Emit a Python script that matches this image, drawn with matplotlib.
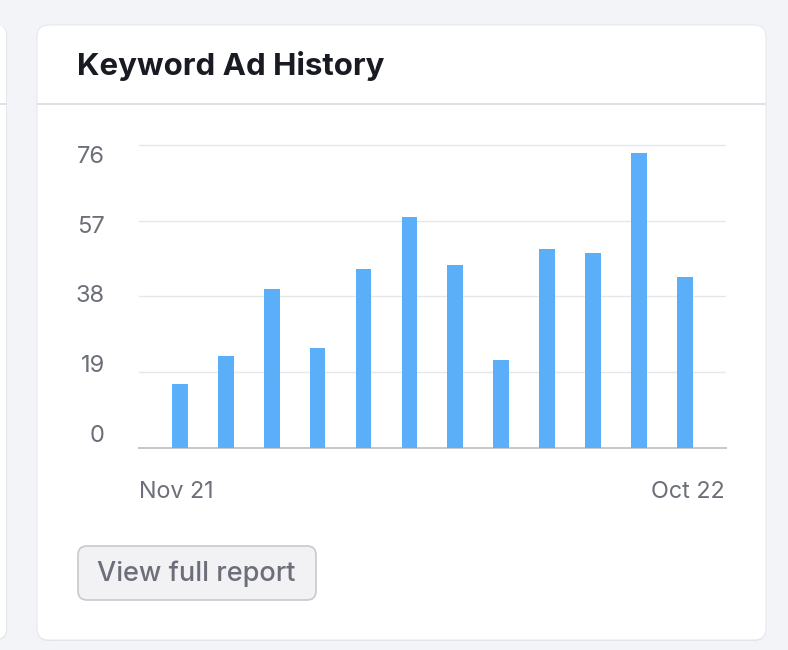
import matplotlib
matplotlib.use("Agg")
import matplotlib.pyplot as plt
from matplotlib.patches import FancyBboxPatch
import numpy as np

# ---- data ----
months = ["Nov 21", "Dec 21", "Jan 22", "Feb 22", "Mar 22", "Apr 22",
          "May 22", "Jun 22", "Jul 22", "Aug 22", "Sep 22", "Oct 22"]
ad_counts = [16, 23, 40, 25, 45, 58, 46, 22, 50, 49, 74, 43]
y_ticks = [0, 19, 38, 57, 76]
title = "Keyword Ad History"
button_label = "View full report"

# ---- style ----
W, H = 788, 650
BG = "#f3f4f8"
CARD = "#ffffff"
BAR = "#5aaff8"
GRID = "#e6e7ea"
AXIS = "#c5c7cd"
TXT = "#191b23"
GRAY = "#6c6e79"
FONT = "Inter"

plt.rcParams["font.family"] = [FONT, "DejaVu Sans"]

fig = plt.figure(figsize=(W / 100, H / 100), dpi=100, facecolor=BG)

# background canvas in pixel coordinates
bg = fig.add_axes([0, 0, 1, 1], zorder=0)
bg.set_xlim(0, W)
bg.set_ylim(H, 0)
bg.axis("off")

def rbox(x0, y0, x1, y1, r, **kw):
    p = FancyBboxPatch((x0 + r, y0 + r), (x1 - x0) - 2 * r, (y1 - y0) - 2 * r,
                       boxstyle=f"round,pad={r}", mutation_aspect=1, **kw)
    bg.add_patch(p)
    return p

# left partial card
rbox(-40, 25, 7, 640, 10, facecolor="#e4e5ea", edgecolor="none")
rbox(-40, 25, 6, 639, 10, facecolor=CARD, edgecolor="none")
bg.plot([0, 6], [104, 104], color="#e0e1e6", lw=1.4)

# main card with subtle shadow
rbox(37, 26, 766, 641, 12, facecolor="#dfe0e5", edgecolor="none")
rbox(37, 25, 766, 640, 12, facecolor=CARD, edgecolor="#e8e9ee", linewidth=0.8)
bg.plot([38, 765], [104, 104], color="#e0e1e6", lw=1.4)

bg.text(77, 66, title, fontsize=22.5, fontweight="bold", color=TXT,
        ha="left", va="center")

# button
rbox(78, 546, 316, 600, 9, facecolor="#f2f2f4", edgecolor="#c8c9cf", linewidth=1.2)
bg.text(196.5, 574, button_label, fontsize=19.5, color=GRAY, ha="center",
        va="center", fontweight="medium")

# ---- chart axes ----
ax_l, ax_r = 139, 726
ax_top, ax_bot = 140, 447.7
ax = fig.add_axes([ax_l / W, 1 - ax_bot / H, (ax_r - ax_l) / W, (ax_bot - ax_top) / H],
                  zorder=2)
ax.set_facecolor("none")
x = np.arange(len(ad_counts))
ax.bar(x, ad_counts, width=0.34, color=BAR, zorder=3)
ax.set_xlim(-0.893, 11.9)
ax.set_ylim(0, (ax_bot - ax_top) / 3.98)
ax.set_yticks(y_ticks)
ax.yaxis.grid(True, color=GRID, lw=1.0)
ax.set_axisbelow(True)
ax.tick_params(left=False, bottom=False, labelleft=False, labelbottom=False)
for s in ["top", "right", "left"]:
    ax.spines[s].set_visible(False)
ax.spines["bottom"].set_color(AXIS)
ax.spines["bottom"].set_linewidth(1.4)

# y labels (slightly compressed toward the centre as in the reference)
for v in y_ticks:
    ax.text(-0.058, 2.94 + v * 0.923, str(v), transform=ax.get_yaxis_transform(),
            ha="right", va="center", fontsize=17, color=GRAY)

# x labels: first and last month only
ax.text(0, -0.145, months[0], transform=ax.transAxes, ha="left", va="center",
        fontsize=16.8, color=GRAY)
ax.text(0.997, -0.145, months[-1], transform=ax.transAxes, ha="right", va="center",
        fontsize=16.8, color=GRAY)

fig.savefig("out.png", dpi=100, facecolor=BG)
